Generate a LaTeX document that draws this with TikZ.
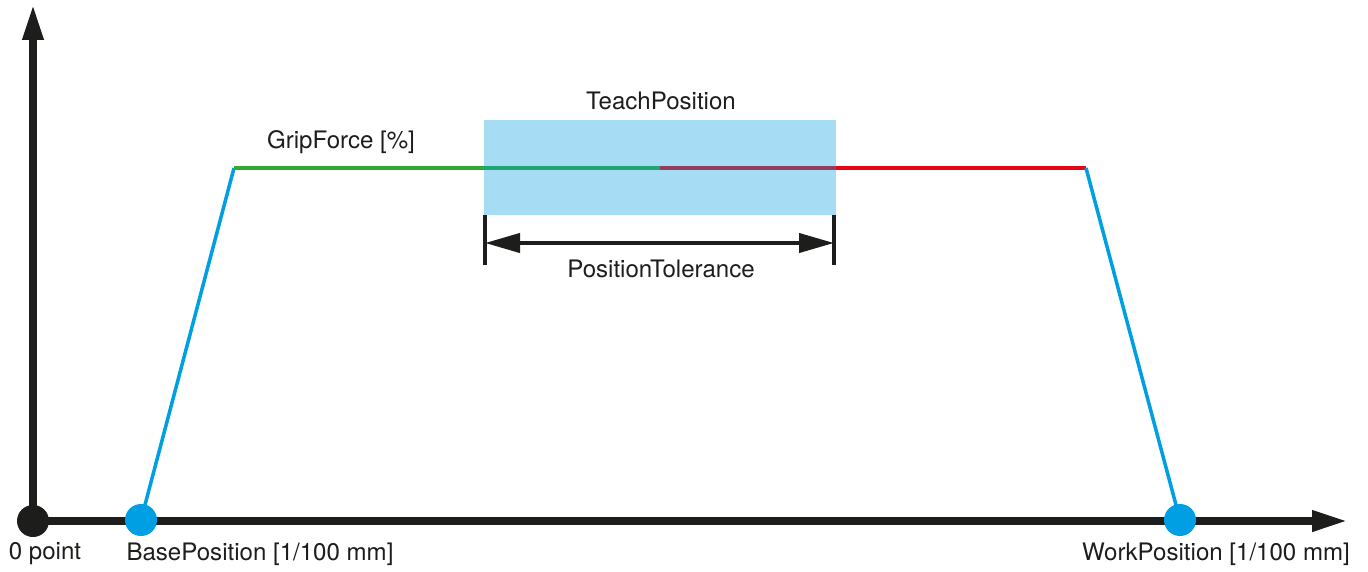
\documentclass[tikz,border=0pt]{standalone}
\usepackage{fontspec}
\setmainfont{TeX Gyre Heros}
\usetikzlibrary{positioning,arrows.meta}
\definecolor{axisblack}{RGB}{29,29,27}
\definecolor{rampblue}{RGB}{0,159,227}
\definecolor{gripgreen}{RGB}{52,168,52}
\definecolor{gripred}{RGB}{227,6,19}

\begin{document}
\begin{tikzpicture}[x=0.02cm,y=-0.02cm,
    axis/.style={line width=4pt,color=axisblack,-{Triangle[length=0.7cm,width=0.4cm]}},
    ramp/.style={line width=2pt,rampblue},
    dot/.style={circle,fill=#1,minimum size=0.64cm,inner sep=0pt},
    lbl/.style={font=\fontsize{13.7}{16}\selectfont,text=axisblack}]
    \useasboundingbox (0,0) rectangle (1368,571);

    % key points of the curve
    \coordinate (o) at (33,521);
    \coordinate (top) at (33,5);
    \coordinate (right) at (1347,521);
    \coordinate (rise) at (234,168);
    \coordinate (split) at (660,168);
    \coordinate (fall) at (1086,168);

    % axes
    \draw[axis] (o) -- (top);
    \draw[axis] (o) -- (right);

    % grip force profile
    \draw[ramp] (141,520) -- (rise);
    \draw[ramp,gripgreen] (rise) -- (split);
    \draw[ramp,gripred] (split) -- (fall);
    \draw[ramp] (fall) -- (1180,520);
    \node[lbl] (force) at (341,142) {GripForce [\%]};

    % teach window
    \coordinate (tl) at (484,120);
    \coordinate (br) at (836,215);
    \fill[rampblue,opacity=0.35] (tl) rectangle (br);
    \node[lbl] (teach) at (661,101) {TeachPosition};

    % tolerance dimension
    \coordinate (tolL) at (485,243);
    \coordinate (tolR) at (834,243);
    \draw[line width=1.8pt,axisblack] (485,215) -- (485,265);
    \draw[line width=1.8pt,axisblack] (834,215) -- (834,265);
    \draw[line width=2.3pt,axisblack,{Triangle[length=0.7cm,width=0.38cm]}-{Triangle[length=0.7cm,width=0.38cm]}] (tolL) -- (tolR);
    \node[lbl] (tol) at (661,269) {PositionTolerance};

    % points on the axis
    \node[dot=axisblack] (zero) at (o) {};
    \node[dot=rampblue] (base) at (141,520) {};
    \node[dot=rampblue] (work) at (1180,520) {};
    \node[lbl] (zerolbl) at (45,554) {0 point};
    \node[lbl] (baselbl) at (260,554) {BasePosition [1/100 mm]};
    \node[lbl] (worklbl) at (1216,554) {WorkPosition [1/100 mm]};
\end{tikzpicture}
\end{document}
